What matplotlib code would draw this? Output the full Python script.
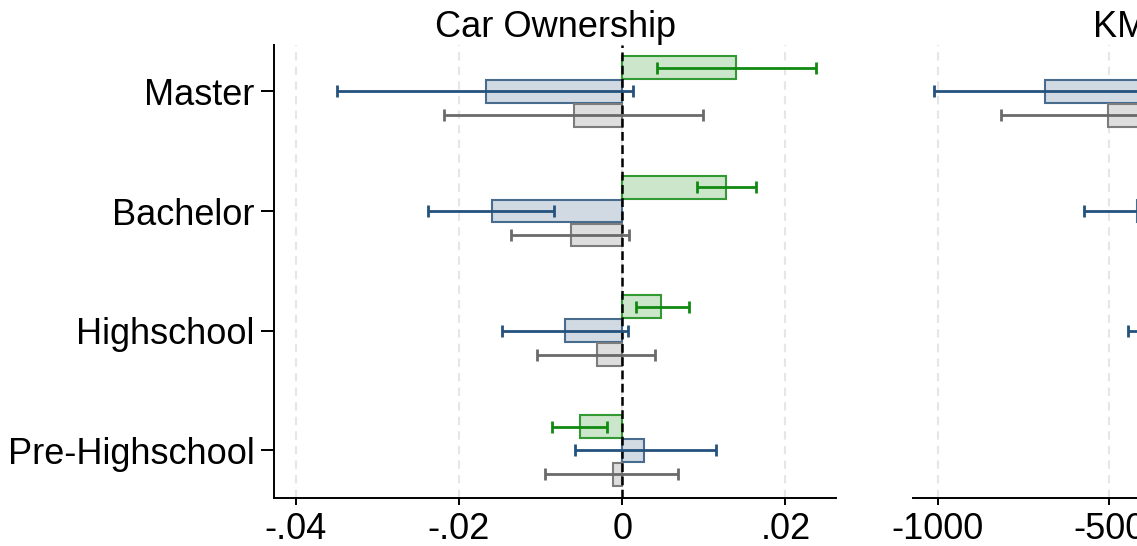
import numpy as np
import matplotlib
matplotlib.use("Agg")
import matplotlib.pyplot as plt

plt.rcParams['font.family'] = ['Liberation Sans', 'DejaVu Sans']

# ---- categories (top to bottom) ----
levels = ['Master', 'Bachelor', 'Highschool', 'Pre-Highschool']

# ---- car ownership: coefficient, lower CI, upper CI ----
car_green = [0.0140, 0.0127, 0.0048, -0.0052]
car_green_lo = [0.0043, 0.0092, 0.0017, -0.0086]
car_green_hi = [0.0238, 0.0164, 0.0082, -0.0019]

car_blue = [-0.0167, -0.0160, -0.0070, 0.0027]
car_blue_lo = [-0.0349, -0.0238, -0.0147, -0.0058]
car_blue_hi = [0.0013, -0.0083, 0.0007, 0.0115]

car_gray = [-0.0059, -0.0063, -0.0031, -0.0011]
car_gray_lo = [-0.0218, -0.0136, -0.0104, -0.0095]
car_gray_hi = [0.0099, 0.0009, 0.0040, 0.0069]

# ---- km travelled ----
km_green = [100, 120, 60, -40]
km_green_lo = [-200, -20, -100, -200]
km_green_hi = [400, 260, 220, 120]

km_blue = [-687, -420, -250, -60]
km_blue_lo = [-1012, -574, -447, -350]
km_blue_hi = [-360, -266, -50, 230]

km_gray = [-503, -180, -90, 20]
km_gray_lo = [-816, -400, -300, -250]
km_gray_hi = [-190, 40, 120, 290]

car_ticks = [-0.04, -0.02, 0, 0.02]
car_ticklabels = ['-.04', '-.02', '0', '.02']
km_ticks = [-1000, -500, 0, 500]
km_ticklabels = ['-1000', '-500', '0', '500']

STYLES = {
    'green': dict(fill='#cce6cc', edge='#339933', err='#108a10'),
    'blue': dict(fill='#d1dae3', edge='#476c8e', err='#24527c'),
    'gray': dict(fill='#dedede', edge='#7c7c7c', err='#6a6a6a'),
}

FS = 26
W, H = 1137, 546
fig = plt.figure(figsize=(W / 100, H / 100), dpi=100)

bottom = (H - 498) / H
height = (498 - 45) / H
width = 561.6 / W
ax1 = fig.add_axes([274.4 / W, bottom, width, height])
ax2 = fig.add_axes([913.3 / W, bottom, width, height])

ypos = np.arange(len(levels), 0, -1).astype(float)
OFF = 0.2
BH = 0.19


def draw_panel(ax, groups, ticks, ticklabels, xlim, title):
    for offset, (key, val, lo, hi) in zip([OFF, 0.0, -OFF], groups):
        st = STYLES[key]
        val = np.asarray(val, float)
        lo = np.asarray(lo, float)
        hi = np.asarray(hi, float)
        y = ypos + offset
        ax.barh(y, val, height=BH, color=st['fill'], edgecolor=st['edge'],
                linewidth=1.5, zorder=2)
        ax.errorbar(val, y, xerr=[val - lo, hi - val], fmt='none',
                    ecolor=st['err'], elinewidth=2.0, capsize=4,
                    capthick=2.0, zorder=4)
    ax.axvline(0, color='black', linestyle=(0, (3.5, 1.8)), linewidth=1.8, zorder=3)
    for t in ticks:
        ax.axvline(t, color='#e6e6e6', linestyle=(0, (4, 3)), linewidth=1.5, zorder=0)
    ax.set_xlim(*xlim)
    ax.set_ylim(0.603, 4.388)
    ax.set_xticks(ticks)
    ax.set_xticklabels(ticklabels, fontsize=FS)
    ax.tick_params(axis='x', length=5, width=1.4, pad=5)
    ax.set_title(title, fontsize=FS, pad=5)
    for s in ['top', 'right']:
        ax.spines[s].set_visible(False)
    for s in ['left', 'bottom']:
        ax.spines[s].set_linewidth(1.4)


draw_panel(ax1,
           [('green', car_green, car_green_lo, car_green_hi),
            ('blue', car_blue, car_blue_lo, car_blue_hi),
            ('gray', car_gray, car_gray_lo, car_gray_hi)],
           car_ticks, car_ticklabels, (-0.0426, 0.0262), 'Car Ownership')
ax1.set_yticks(ypos)
ax1.set_yticklabels(levels, fontsize=FS)
ax1.tick_params(axis='y', length=9.5, width=1.4, pad=5)

draw_panel(ax2,
           [('green', km_green, km_green_lo, km_green_hi),
            ('blue', km_blue, km_blue_lo, km_blue_hi),
            ('gray', km_gray, km_gray_lo, km_gray_hi)],
           km_ticks, km_ticklabels, (-1071, 565), 'KM Traveled')
ax2.spines['left'].set_visible(False)
ax2.set_yticks([])

fig.savefig('out.png', dpi=100)
